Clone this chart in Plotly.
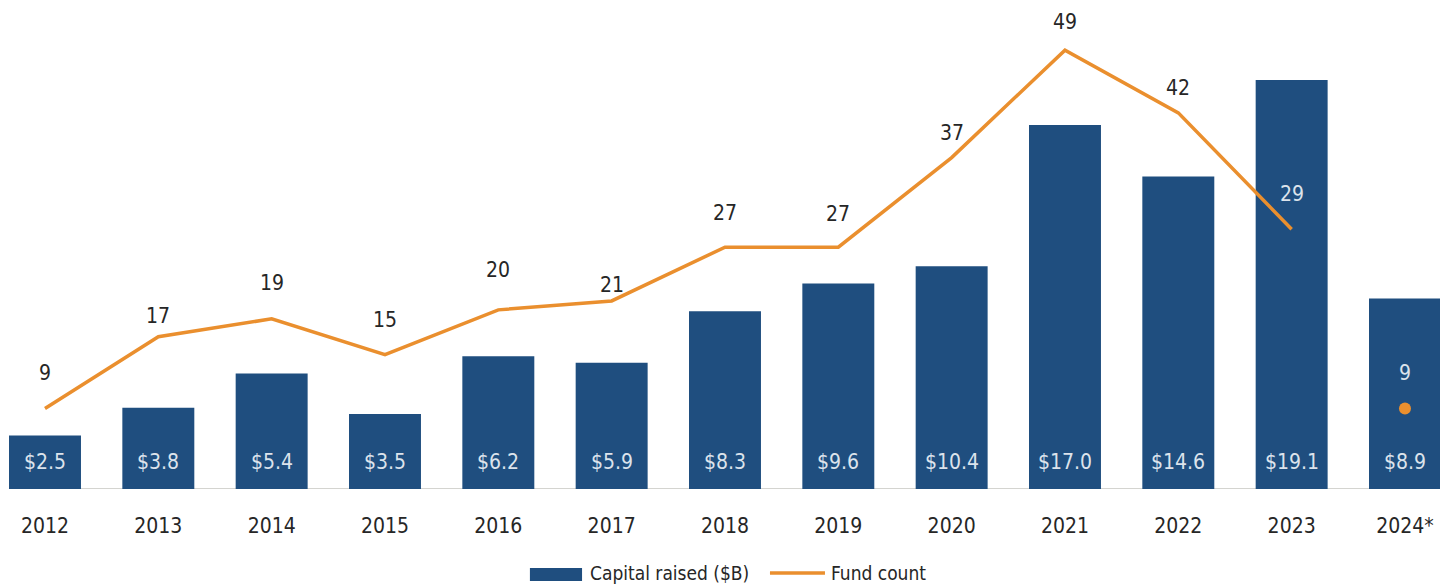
import plotly.graph_objects as go

years = ["2012", "2013", "2014", "2015", "2016", "2017", "2018", "2019", "2020", "2021", "2022", "2023", "2024*"]
capital = [2.5, 3.8, 5.4, 3.5, 6.2, 5.9, 8.3, 9.6, 10.4, 17.0, 14.6, 19.1, 8.9]
fund_count = [9, 17, 19, 15, 20, 21, 27, 27, 37, 49, 42, 29, 9]
capital_labels = ["$2.5", "$3.8", "$5.4", "$3.5", "$6.2", "$5.9", "$8.3", "$9.6", "$10.4", "$17.0", "$14.6", "$19.1", "$8.9"]
# vertical pixel offsets of the fund-count labels above their points (style)
label_offsets = [35, 21, 36, 35, 40, 16, 34, 33, 25, 28, 25, 35, 35]

BAR = "#1F4E7F"
ORANGE = "#EA8F2E"
DARK = "#262626"
LIGHT = "#DCE3EC"
FONT = "DejaVu Sans Condensed, sans-serif"
FS = 21


def f(color, size=FS):
    return dict(family=FONT, size=size, color=color)


n = len(years)
xs = list(range(n))
# last point is year-to-date: shown as lone dot
line_y = fund_count[:-1] + [None]

fig = go.Figure()
fig.add_trace(go.Bar(x=xs, y=capital, name="Capital raised ($B)", marker_color=BAR,
                     marker_line_width=0, yaxis="y", hoverinfo="skip"))
fig.add_trace(go.Scatter(x=xs, y=line_y, name="Fund count", mode="lines",
                         line=dict(color=ORANGE, width=3.5), yaxis="y2", connectgaps=False))
fig.add_trace(go.Scatter(x=[xs[-1]], y=[fund_count[-1]], mode="markers", showlegend=False,
                         marker=dict(color=ORANGE, size=12), yaxis="y2"))

ann = []
for i in xs:
    ann.append(dict(x=i, y=0, xref="x", yref="y", text=capital_labels[i], showarrow=False,
                    yanchor="middle", yshift=27, font=f(LIGHT)))
for i in xs:
    # label color light if it sits over a bar
    inside = fund_count[i] / 54.6 * 489 + label_offsets[i] < capital[i] / 22.84 * 489
    ann.append(dict(x=i, y=fund_count[i], xref="x", yref="y2", text=str(fund_count[i]), showarrow=False,
                    yanchor="middle", yshift=label_offsets[i], font=f(LIGHT if inside else DARK)))

# custom legend (wide swatches as in the original)
ann.append(dict(x=0.4083, y=-0.1718, xref="paper", yref="paper", text="Capital raised ($B)",
                showarrow=False, xanchor="left", yanchor="middle", font=f(DARK, 19)))
ann.append(dict(x=0.5757, y=-0.1718, xref="paper", yref="paper", text="Fund count",
                showarrow=False, xanchor="left", yanchor="middle", font=f(DARK, 19)))

shapes = [
    dict(type="line", xref="x", yref="y", x0=-0.318, x1=12.4, y0=0, y1=0,
         line=dict(color="#D4D4D0", width=2), layer="below"),
    dict(type="rect", xref="paper", yref="paper", x0=0.368, x1=0.4042, y0=-0.188, y1=-0.1616,
         fillcolor=BAR, line=dict(width=0)),
    dict(type="line", xref="paper", yref="paper", x0=0.5347, x1=0.5729, y0=-0.1718, y1=-0.1718,
         line=dict(color=ORANGE, width=3.5)),
]

fig.update_layout(
    width=1440, height=584,
    margin=dict(l=0, r=0, t=0, b=95, autoexpand=False),
    plot_bgcolor="white", paper_bgcolor="white",
    bargap=0.365,
    font=f(DARK),
    xaxis=dict(tickmode="array", tickvals=xs, ticktext=years, range=[-0.397, 12.309],
               showgrid=False, zeroline=False, showline=False, ticks="",
               ticklabelstandoff=22, tickfont=f(DARK), automargin=False),
    yaxis=dict(range=[0, 22.84], visible=False, showgrid=False, zeroline=False),
    yaxis2=dict(range=[0, 54.6], overlaying="y", visible=False, showgrid=False, zeroline=False),
    showlegend=False,
    annotations=ann,
    shapes=shapes,
)

fig.write_html("out.html")
